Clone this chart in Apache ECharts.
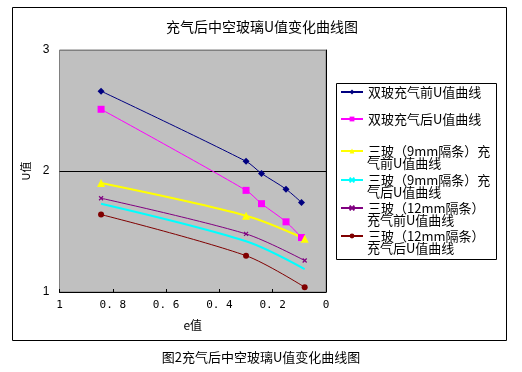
<!DOCTYPE html>
<html><head><meta charset="utf-8">
<script src="https://cdn.jsdelivr.net/npm/echarts@6/dist/echarts.min.js"></script>
<style>html,body{margin:0;padding:0;background:#fff}#c{width:522px;height:372px}</style>
</head><body><div id="c"></div>
<script>
const titleText = '充气后中空玻璃U值变化曲线图';
const captionText = '图2充气后中空玻璃U值变化曲线图';
const xName = 'e值';
const yName = 'U值';
const xTicks = [0, 0.2, 0.4, 0.6, 0.8, 1];
const yTicks = [1, 2, 3];

const seriesNames = ['双玻充气前U值曲线','双玻充气后U值曲线','三玻（9mm隔条）充气前U值曲线','三玻（9mm隔条）充气后U值曲线','三玻（12mm隔条）充气前U值曲线','三玻（12mm隔条）充气后U值曲线'];
const legendLine1 = ['双玻充气前U值曲线','双玻充气后U值曲线','三玻（9mm隔条）充','三玻（9mm隔条）充','三玻（12mm隔条）','三玻（12mm隔条）'];
const legendLine2 = ['','','气前U值曲线','气后U值曲线','充气前U值曲线','充气后U值曲线'];

const eDouble = [0.844, 0.30, 0.242, 0.15, 0.092];
const eTriple = [0.844, 0.30, 0.08];
const uDoubleBefore = [2.66, 2.08, 1.98, 1.85, 1.74];
const uDoubleAfter  = [2.51, 1.84, 1.73, 1.58, 1.45];
const uTri9Before   = [1.90, 1.63, 1.44];
const uTri9After    = [1.73, 1.42, 1.19];
const uTri12Before  = [1.775, 1.48, 1.26];
const uTri12After   = [1.64, 1.30, 1.04];

const colors = ['#000080','#ff00ff','#ffff00','#00ffff','#800080','#800000'];
const xs = [eDouble, eDouble, eTriple, eTriple, eTriple, eTriple];
const ys = [uDoubleBefore, uDoubleAfter, uTri9Before, uTri9After, uTri12Before, uTri12After];
const symbols = ['diamond','rect','triangle','path://M0,0L10,10M10,0L0,10','path://M0,0L10,10M10,0L0,10','circle'];
const symSizes = [7, 7, 8, 4, 4, 6];
const widths = [1, 1, 2, 2, 1, 1];
const legendTops = [92, 119, 151, 180, 208, 236];

const cjk = '"Noto Sans CJK SC", "Noto Sans", sans-serif';

const series = seriesNames.map((n, i) => ({
  name: n, type: 'line', smooth: 0.3,
  data: xs[i].map((x, j) => [x, ys[i][j]]),
  symbol: symbols[i], symbolSize: symSizes[i], showSymbol: true,
  lineStyle: { color: colors[i], width: widths[i] },
  itemStyle: { color: colors[i], borderColor: colors[i], borderWidth: (i === 3 || i === 4) ? 1.2 : 0 },
  emphasis: { disabled: true },
  z: 3
}));
series[3].showSymbol = false;

const legends = seriesNames.map((n, i) => ({
  data: [n], orient: 'vertical', left: 340, top: legendTops[i] - 7,
  padding: 0, itemWidth: 22, itemHeight: 6, itemGap: 0,
  formatter: () => legendLine1[i],
  textStyle: { fontFamily: cjk, fontSize: 13, lineHeight: 14, color: '#000' },
  selectedMode: false
}));

const graphics = [
  { type: 'rect', shape: { x: 12.5, y: 7.5, width: 494, height: 333 }, style: { fill: null, stroke: '#000', lineWidth: 1 }, z: -1 },
  { type: 'rect', shape: { x: 336.5, y: 83.5, width: 160, height: 176 }, style: { fill: null, stroke: '#000', lineWidth: 1 } },
  { type: 'text', left: 'center', top: 351, style: { text: captionText, font: '13px ' + cjk, fill: '#000' } }
];
legendLine2.forEach((t, i) => {
  if (t) graphics.push({ type: 'text', x: 367, y: legendTops[i] + 12, style: { text: t, font: '13px ' + cjk, fill: '#000', verticalAlign: 'middle' } });
});

const chart = echarts.init(document.getElementById('c'));
chart.setOption({
  animation: false,
  backgroundColor: '#fff',
  title: { text: titleText, left: 257, textAlign: 'center', top: 15, textStyle: { fontFamily: cjk, fontSize: 14, fontWeight: 'normal', color: '#000' } },
  grid: { left: 59.5, right: 196, top: 50, bottom: 80, show: true, backgroundColor: '#c0c0c0', borderColor: '#808080', borderWidth: 1 },
  legend: legends,
  xAxis: {
    type: 'value', min: xTicks[0], max: xTicks[xTicks.length - 1], interval: 0.2, inverse: true,
    name: xName, nameLocation: 'middle', nameGap: 27,
    nameTextStyle: { fontFamily: cjk, fontSize: 12, color: '#000' },
    axisLine: { show: true, onZero: false, lineStyle: { color: '#000', width: 1 } },
    axisTick: { show: true, inside: true, length: 3, lineStyle: { color: '#000' } },
    axisLabel: { margin: 8, fontFamily: '"DejaVu Sans Mono", monospace', fontSize: 11, color: '#000',
      formatter: v => (v === 0 || v === 1) ? String(v) : '0. ' + Math.round(v * 10) },
    splitLine: { show: false }
  },
  yAxis: {
    type: 'value', min: yTicks[0], max: yTicks[yTicks.length - 1], interval: 1,
    name: yName, nameLocation: 'middle', nameGap: 28, nameRotate: 90,
    nameTextStyle: { fontFamily: cjk, fontSize: 11, color: '#000' },
    axisLine: { show: true, lineStyle: { color: '#000', width: 1 } },
    axisTick: { show: false },
    axisLabel: { margin: 10, fontFamily: '"Liberation Sans", sans-serif', fontSize: 12, color: '#000' },
    splitLine: { show: true, lineStyle: { color: ['#000', '#000', '#808080'], width: 1 } }
  },
  graphic: graphics,
  series: series
});
</script></body></html>
